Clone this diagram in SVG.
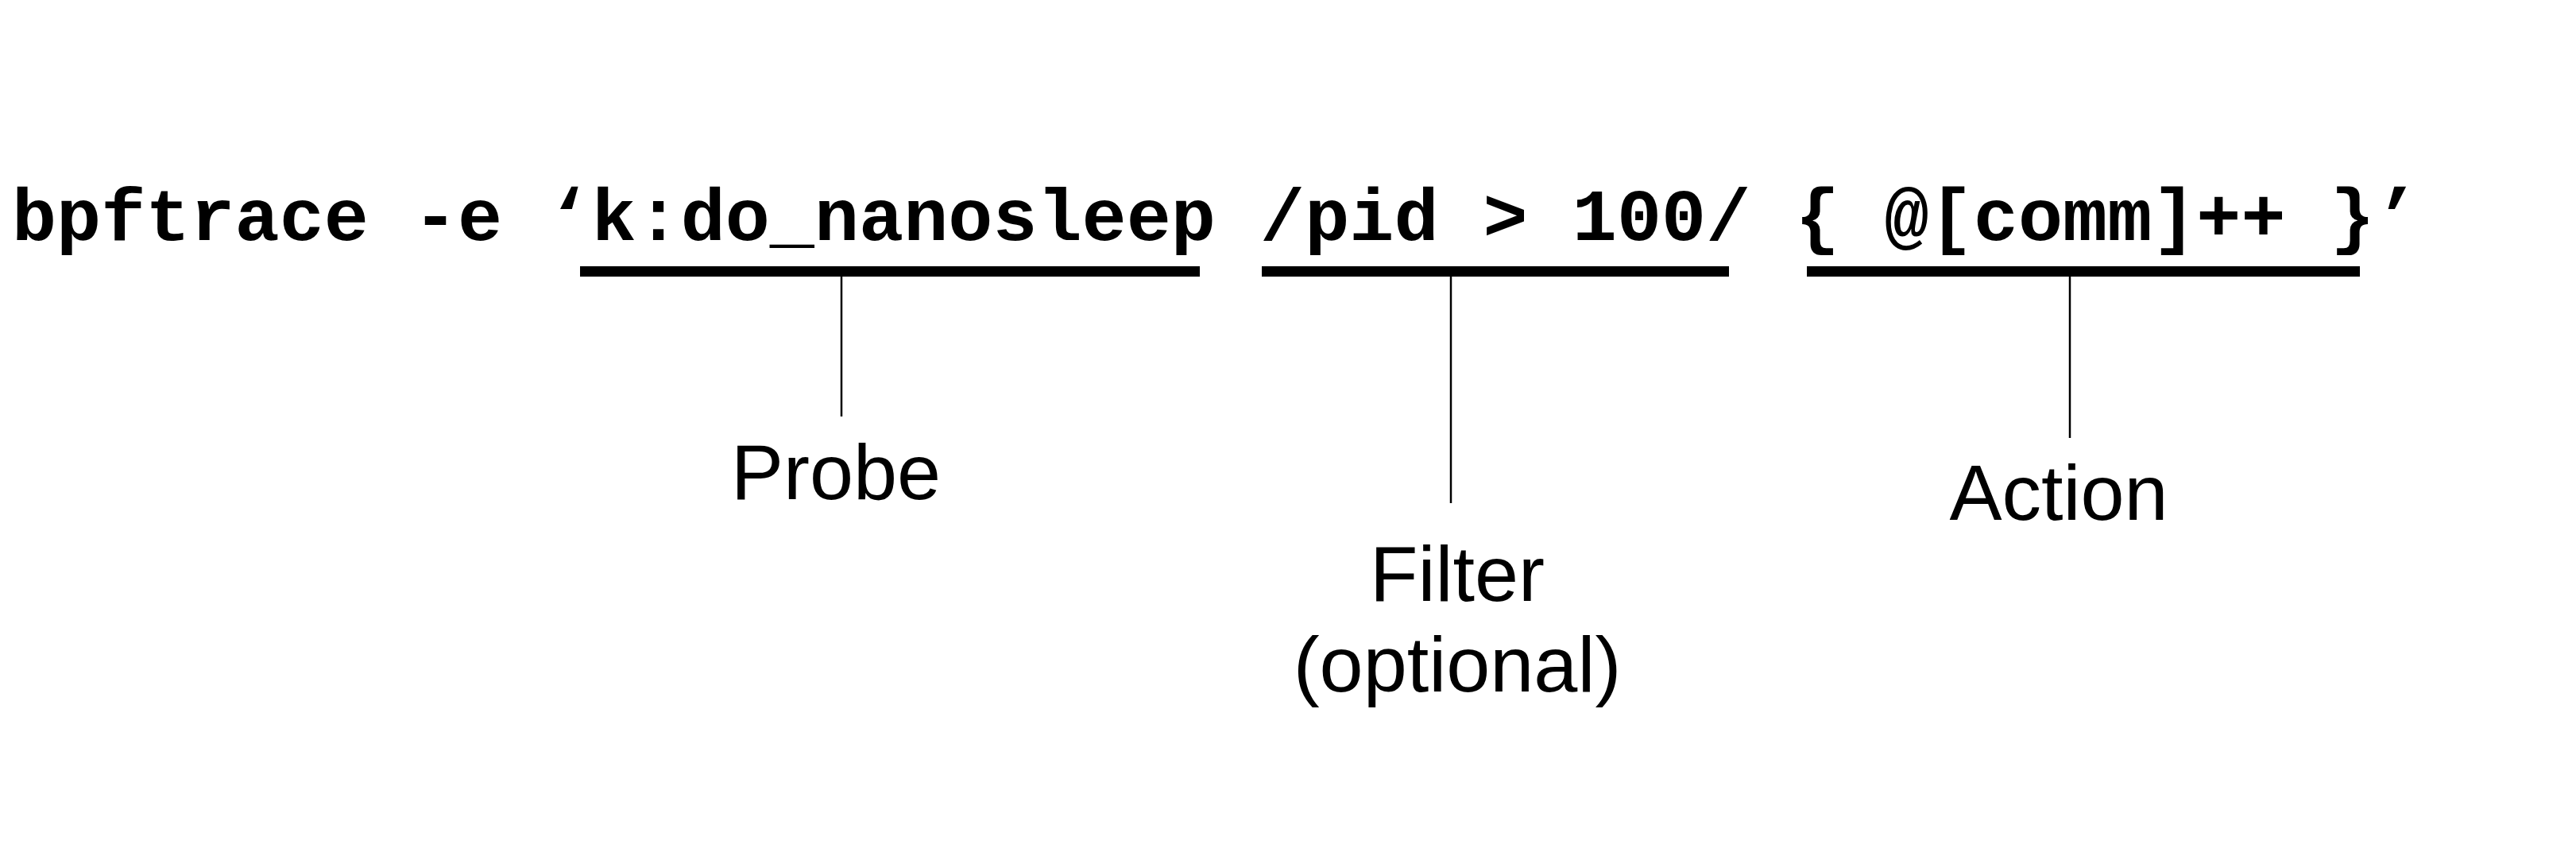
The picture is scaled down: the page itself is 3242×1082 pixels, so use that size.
<svg xmlns="http://www.w3.org/2000/svg" width="3242" height="1082" viewBox="0 0 3242 1082">
<style>
.code{font-family:"Liberation Mono","Courier New",monospace;font-weight:bold;font-size:93.5px;fill:#000;white-space:pre}
.lbl{font-family:"Liberation Sans",Arial,sans-serif;font-size:99px;fill:#000;text-anchor:middle}
.ul{fill:#000}
.ln{stroke:#000;stroke-width:2.5}
</style>
<rect width="3242" height="1082" fill="#fff"/>
<g id="command">
<text class="code" x="15" y="302" xml:space="preserve">bpftrace -e ‘k:do_nanosleep /pid &gt; 100/ { @[comm]++ }’</text>
</g>
<g id="probe">
<rect class="ul" x="730" y="335" width="780" height="13"/>
<text class="lbl" x="1052" y="628">Probe</text>
</g>
<g id="filter">
<rect class="ul" x="1588" y="335" width="588" height="13"/>
<text class="lbl" x="1834" y="756">Filter</text>
<text class="lbl" x="1834" y="870">(optional)</text>
</g>
<g id="action">
<rect class="ul" x="2274" y="335" width="696" height="13"/>
<text class="lbl" x="2591" y="654">Action</text>
</g>
<g id="connectors">
<line class="ln" x1="1059" y1="348" x2="1059" y2="524"/>
<line class="ln" x1="1826" y1="348" x2="1826" y2="633"/>
<line class="ln" x1="2605" y1="348" x2="2605" y2="551"/>
</g>
</svg>
